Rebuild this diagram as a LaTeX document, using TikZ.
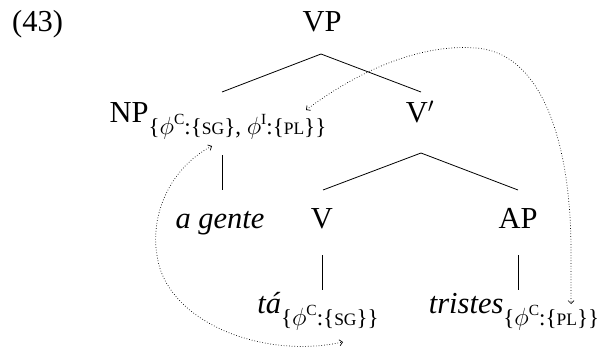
\documentclass[tikz,border=0pt]{standalone}
\usepackage{fontspec}
\setmainfont{Liberation Serif}
\usetikzlibrary{arrows.meta,calc}
\newcommand{\myfsub}[1]{\raisebox{-0.4em}{\fontsize{23}{26}\selectfont #1}}
\newcommand{\myphisup}[1]{$\phi$\raisebox{0.42em}{\fontsize{15.5}{17}\selectfont #1}}
\newcommand{\mysmc}[1]{{\fontsize{17.5}{19}\selectfont #1}}
\begin{document}
\begin{tikzpicture}[x=1pt,y=-1pt,
  lab/.style={anchor=base,inner sep=0pt,font=\fontsize{30.5}{36}\selectfont},
  br/.style={line width=0.8pt},
  agr/.style={dotted,line width=0.7pt,{Straight Barb[length=3pt,width=6pt]}-{Straight Barb[length=3pt,width=6pt]}}]
\useasboundingbox (0,0) rectangle (606,351);
\node[lab,anchor=base west] (ex) at (12,31) {(43)};
\node[lab] (vp) at (322,31) {VP};
\node[lab] (np) at (218,122) {NP\myfsub{\{\myphisup{C}:\{\mysmc{SG}\}, \myphisup{I}:\{\mysmc{PL}\}\}}};
\node[lab] (vbar) at (420,122) {V$'$};
\node[lab] (ag) at (220,228) {\itshape a gente};
\node[lab] (v) at (322,228) {V};
\node[lab] (ap) at (518,228) {AP};
\node[lab] (ta) at (318,313) {\itshape tá\upshape\myfsub{\{\myphisup{C}:\{\mysmc{SG}\}\}}};
\node[lab] (tr) at (514,313) {\itshape tristes\upshape\myfsub{\{\myphisup{C}:\{\mysmc{PL}\}\}}};
% branches
\coordinate (vpapex) at ($(vp.base)+(-1,23)$);
\coordinate (vbarapex) at ($(vbar.base)+(1,31)$);
\draw[br] (vpapex) -- ($(np.base)+(4,-30)$);
\draw[br] (vpapex) -- ($(vbar.base)+(1,-30)$);
\draw[br] ($(np.base)+(4,33)$) -- ($(ag.base)+(2,-38)$);
\draw[br] (vbarapex) -- ($(v.base)+(1,-38)$);
\draw[br] (vbarapex) -- ($(ap.base)+(0,-38)$);
\draw[br] ($(v.base)+(0,27)$) -- ($(v.base)+(0,62)$);
\draw[br] ($(ap.base)+(0,27)$) -- ($(ap.base)+(0,62)$);
% agreement arrows
\coordinate (npsg) at (212,146);
\coordinate (tasg) at (343,342);
\coordinate (nppl) at (306,110);
\coordinate (trpl) at (571,304);
\draw[agr] (npsg) .. controls (170,168) and (150,215) .. (157,255) .. controls (165,320) and (260,360) .. (tasg);
\draw[agr] (nppl) .. controls (380,55) and (440,45) .. (475,48) .. controls (545,52) and (571,150) .. (571,250) -- (trpl);
\end{tikzpicture}
\end{document}
